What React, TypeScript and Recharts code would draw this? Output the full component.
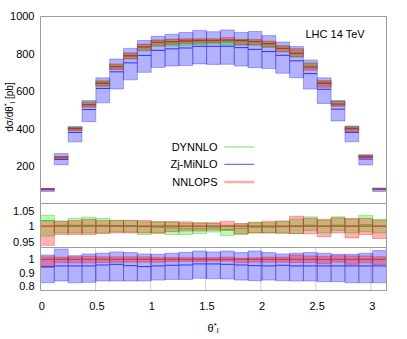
import React from 'react';
import { ComposedChart, Bar, Line, XAxis, YAxis, CartesianGrid } from 'recharts';

// ---------- data ----------
const binEdges = [0, 0.1257, 0.2513, 0.377, 0.5027, 0.6283, 0.754, 0.8796, 1.0053, 1.131, 1.2566, 1.3823, 1.508, 1.6336, 1.7593, 1.885, 2.0106, 2.1363, 2.2619, 2.3876, 2.5133, 2.6389, 2.7646, 2.8903, 3.0159, 3.1416];
const xTicks = [0, 0.5, 1, 1.5, 2, 2.5, 3];
const mainTicks = [200, 400, 600, 800, 1000];
const ratio1Ticks = [0.95, 1, 1.05];
const ratio2Ticks = [0.8, 0.9, 1];
const ratio2TickMarks = [0.8, 0.85, 0.9, 0.95, 1, 1.05];

// NNLOPS central value [pb]
const nnlops = [78, 248, 400, 529, 643, 732, 790, 838, 862, 866, 869, 871, 871, 874, 871, 866, 855, 830, 803, 731, 643, 531, 400, 250, 78];
// NNLOPS band (ratio to NNLOPS)
const nnlopsLow = [0.938, 0.973, 0.973, 0.973, 0.976, 0.978, 0.978, 0.978, 0.978, 0.982, 0.984, 0.984, 0.987, 0.986, 0.975, 0.978, 0.978, 0.978, 0.976, 0.975, 0.966, 0.978, 0.962, 0.973, 0.96];
const nnlopsHigh = [1.018, 1.016, 1.018, 1.022, 1.018, 1.018, 1.018, 1.018, 1.014, 1.014, 1.014, 1.011, 1.011, 1.016, 1.008, 1.011, 1.016, 1.016, 1.032, 1.025, 1.022, 1.027, 1.025, 1.025, 1.019];
// DYNNLO / NNLOPS
const dynnloRatio = [1.018, 1.003, 1.003, 1.003, 1.003, 1.002, 1.002, 0.998, 0.996, 0.994, 0.992, 0.992, 0.994, 0.989, 0.992, 0.996, 0.996, 0.998, 1.0, 1.003, 1.0, 1.003, 1.0, 1.005, 1.0];
const dynnloLow = [0.968, 0.978, 0.978, 0.978, 0.978, 0.982, 0.981, 0.973, 0.976, 0.973, 0.973, 0.976, 0.981, 0.97, 0.973, 0.978, 0.978, 0.976, 0.976, 0.986, 0.978, 0.986, 0.978, 0.982, 0.978];
const dynnloHigh = [1.035, 1.016, 1.025, 1.029, 1.025, 1.019, 1.019, 1.014, 1.014, 1.014, 1.009, 1.01, 1.009, 1.003, 1.008, 1.013, 1.011, 1.016, 1.022, 1.03, 1.018, 1.03, 1.022, 1.034, 1.022];
// Zj-MiNLO / NNLOPS
const zjRatio = [0.945, 0.95, 0.95, 0.95, 0.957, 0.962, 0.952, 0.945, 0.95, 0.955, 0.957, 0.965, 0.965, 0.962, 0.957, 0.952, 0.95, 0.955, 0.95, 0.95, 0.95, 0.95, 0.95, 0.95, 0.95];
const zjLow = [0.824, 0.837, 0.824, 0.827, 0.837, 0.837, 0.837, 0.837, 0.844, 0.849, 0.849, 0.857, 0.854, 0.852, 0.844, 0.839, 0.844, 0.839, 0.837, 0.837, 0.832, 0.832, 0.824, 0.824, 0.824];
const zjHigh = [1.032, 1.077, 1.027, 1.04, 1.045, 1.055, 1.05, 1.04, 1.037, 1.045, 1.052, 1.062, 1.055, 1.062, 1.05, 1.062, 1.05, 1.04, 1.045, 1.05, 1.045, 1.037, 1.037, 1.045, 1.065];

// ---------- tables ----------
const XMAX = binEdges[binEdges.length - 1];
const binRows = nnlops.map((n, i) => ({
  x: (binEdges[i] + binEdges[i + 1]) / 2,
  mZj: [n * zjLow[i], n * zjHigh[i]],
  mDyn: [n * dynnloLow[i], n * dynnloHigh[i]],
  mNn: [n * nnlopsLow[i], n * nnlopsHigh[i]],
  rDyn: [dynnloLow[i], dynnloHigh[i]],
  rNn: [nnlopsLow[i], nnlopsHigh[i]],
  rZj: [zjLow[i], zjHigh[i]],
}));
const segRows = (vals: number[]) =>
  vals.flatMap((v, i) => [
    { x: binEdges[i], y: v },
    { x: binEdges[i + 1], y: v },
    { x: binEdges[i + 1], y: null },
  ]);
const segMainNn = segRows(nnlops);
const segMainDyn = segRows(nnlops.map((n, i) => n * dynnloRatio[i]));
const segMainZj = segRows(nnlops.map((n, i) => n * zjRatio[i]));
const segRatioNn = segRows(nnlops.map((n) => n / n));
const segRatioDyn = segRows(dynnloRatio);
const segRatioZj = segRows(zjRatio);

// ---------- styles ----------
const FONT = '"Liberation Sans", Arial, Helvetica, sans-serif';
const FRAME = '#9c9c9c';
const GRID = '#cfcfcf';
const BAR = 13.8;
const BLUE = { fill: '#0000ff', fillOpacity: 0.3, stroke: '#0000ff', strokeOpacity: 0.3 };
const GREEN = { fill: '#00ff00', fillOpacity: 0.3, stroke: '#00b000', strokeOpacity: 0.3 };
const RED = { fill: '#ff0000', fillOpacity: 0.3, stroke: '#e00000', strokeOpacity: 0.3 };
const LINE_BLUE = '#3030ff';
const LINE_GREEN = '#40c040';
const LINE_RED = '#d42828';

const hiddenX = (id: string) => (
  <XAxis key={id} xAxisId={id} dataKey="x" type="number" domain={[0, XMAX]} allowDataOverflow hide />
);

const yAxes = (domain: number[], ticks: number[], marks: number[]) => [
  <YAxis key="v" yAxisId="v" type="number" domain={domain} ticks={ticks} interval={0} allowDataOverflow width={40}
    tickLine={false} tickSize={0} tickMargin={6} axisLine={{ stroke: FRAME }}
    tick={{ fill: '#000', fontSize: 11, fontFamily: FONT }} />,
  <YAxis key="vl" yAxisId="vl" orientation="left" mirror type="number" domain={domain} ticks={marks} interval={0}
    allowDataOverflow tick={false} tickLine={{ stroke: FRAME }} tickSize={5} axisLine={false} />,
  <YAxis key="vr" yAxisId="vr" orientation="right" mirror type="number" domain={domain} ticks={marks} interval={0}
    allowDataOverflow tick={false} tickLine={{ stroke: FRAME }} tickSize={5} axisLine={{ stroke: FRAME }} />,
];

const bar = (axis: string, key: string, style: any) => (
  <Bar key={key} xAxisId={axis} yAxisId="v" dataKey={key} barSize={BAR} {...style} strokeWidth={1} isAnimationActive={false} />
);
const seg = (key: string, data: any[], color: string, w = 1) => (
  <Line key={key} xAxisId="seg" yAxisId="v" data={data} dataKey="y" type="linear" stroke={color} strokeWidth={w}
    dot={false} activeDot={false} connectNulls={false} isAnimationActive={false} />
);

const MARGIN_L = 0.5;
const MARGIN_R = 20.5;

export default function App() {
  return (
    <div style={{ position: 'absolute', left: 0, top: 0, width: 407, height: 339, background: '#fff', overflow: 'hidden', fontFamily: FONT }}>
      {/* main panel */}
      <div style={{ position: 'absolute', left: 0, top: 0 }}>
        <ComposedChart width={407} height={204} data={binRows} barGap={0} barCategoryGap={0}
          margin={{ top: 16.5, right: MARGIN_R, bottom: 0.5, left: MARGIN_L }}>
          {hiddenX('zj')}
          {hiddenX('dyn')}
          {hiddenX('nn')}
          {hiddenX('seg')}
          <XAxis xAxisId="top" orientation="top" mirror dataKey="x" type="number" domain={[0, XMAX]} ticks={xTicks} interval={0}
            allowDataOverflow tick={false} tickLine={{ stroke: FRAME }} tickSize={6} axisLine={{ stroke: FRAME }} />
          <XAxis xAxisId="bot" orientation="bottom" mirror dataKey="x" type="number" domain={[0, XMAX]} ticks={xTicks} interval={0}
            allowDataOverflow tick={false} tickLine={{ stroke: FRAME }} tickSize={6} axisLine={{ stroke: FRAME }} />
          {yAxes([0, 1000], mainTicks, mainTicks)}
          {bar('zj', 'mZj', BLUE)}
          {bar('dyn', 'mDyn', GREEN)}
          {bar('nn', 'mNn', RED)}
          {seg('lzj', segMainZj, LINE_BLUE)}
          {seg('ldyn', segMainDyn, LINE_GREEN)}
          {seg('lnn', segMainNn, LINE_RED, 1.3)}
        </ComposedChart>
      </div>

      {/* ratio panel 1: DYNNLO & NNLOPS over NNLOPS */}
      <div style={{ position: 'absolute', left: 0, top: 203 }}>
        <ComposedChart width={407} height={45} data={binRows} barGap={0} barCategoryGap={0}
          margin={{ top: 0.5, right: MARGIN_R, bottom: 0.5, left: MARGIN_L }}>
          {hiddenX('dyn')}
          {hiddenX('nn')}
          {hiddenX('seg')}
          <XAxis xAxisId="lab" orientation="bottom" mirror dataKey="x" type="number" domain={[0, XMAX]} ticks={xTicks} interval={0}
            allowDataOverflow tick={false} tickLine={false} axisLine={{ stroke: FRAME }} />
          {yAxes([0.931, 1.073], ratio1Ticks, ratio1Ticks)}
          <CartesianGrid xAxisId="lab" yAxisId="v" horizontal={false} stroke={GRID} />
          {bar('dyn', 'rDyn', GREEN)}
          {bar('nn', 'rNn', RED)}
          {seg('rldyn', segRatioDyn, LINE_GREEN)}
          {seg('rlnn', segRatioNn, LINE_RED)}
        </ComposedChart>
      </div>

      {/* ratio panel 2: Zj-MiNLO & NNLOPS over NNLOPS */}
      <div style={{ position: 'absolute', left: 0, top: 247 }}>
        <ComposedChart width={407} height={92} data={binRows} barGap={0} barCategoryGap={0}
          margin={{ top: 0.5, right: MARGIN_R, bottom: 0, left: MARGIN_L }}>
          {hiddenX('zj')}
          {hiddenX('nn')}
          {hiddenX('seg')}
          <XAxis xAxisId="lab" orientation="bottom" dataKey="x" type="number" domain={[0, XMAX]} ticks={xTicks} interval={0}
            allowDataOverflow height={48.5} tickLine={false} tickSize={0} tickMargin={11.5} axisLine={{ stroke: FRAME }}
            tick={{ fill: '#000', fontSize: 11, fontFamily: FONT, dx: 1.3 }} />
          {yAxes([0.766, 1.088], ratio2Ticks, ratio2TickMarks)}
          <CartesianGrid xAxisId="lab" yAxisId="v" horizontal={false} stroke={GRID} />
          {bar('zj', 'rZj', BLUE)}
          {bar('nn', 'rNn', RED)}
          {seg('rlzj', segRatioZj, LINE_BLUE)}
          {seg('rlnn2', segRatioNn, LINE_RED)}
        </ComposedChart>
      </div>

      {/* text & legend overlay */}
      <svg width={407} height={339} style={{ position: 'absolute', left: 0, top: 0, pointerEvents: 'none' }} fontFamily={FONT}>
        <text x={305.5} y={37.5} fontSize={11} fill="#000">LHC 14 TeV</text>
        <text x={12.5} y={107} fontSize={10} fill="#000" textAnchor="middle" transform="rotate(-90, 12.5, 107)">
          dσ/dθ<tspan dy={-4} fontSize={7}>*</tspan><tspan dy={6} fontSize={7}>l</tspan><tspan dy={-2}> [pb]</tspan>
        </text>
        <text x={207.5} y={331.5} fontSize={11} fill="#000">
          θ<tspan dy={-4} fontSize={8}>*</tspan><tspan dy={5.5} fontSize={8}>l</tspan>
        </text>
        <text x={217.5} y={151} fontSize={11} fill="#000" textAnchor="end">DYNNLO</text>
        <text x={217.5} y={168.3} fontSize={11} fill="#000" textAnchor="end">Zj-MiNLO</text>
        <text x={217.5} y={186} fontSize={11} fill="#000" textAnchor="end">NNLOPS</text>
        <line x1={224.3} x2={254.3} y1={147} y2={147} stroke="#8ee88e" strokeWidth={1.3} />
        <line x1={224.3} x2={254.3} y1={164.3} y2={164.3} stroke="#5050ff" strokeWidth={1} />
        <line x1={224.3} x2={254.3} y1={182} y2={182} stroke="#ffaaaa" strokeWidth={2.5} />
      </svg>
    </div>
  );
}
